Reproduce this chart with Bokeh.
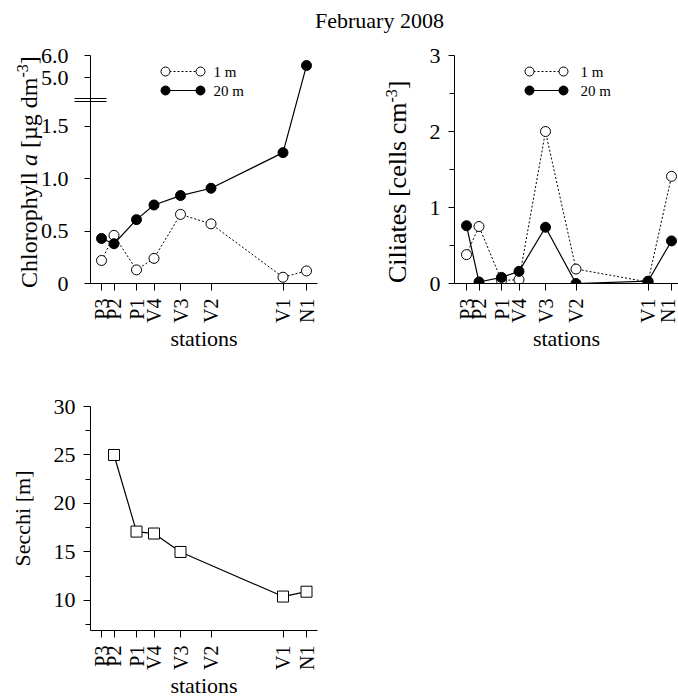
import math
from bokeh.plotting import figure
from bokeh.models import FixedTicker, Label, Div
from bokeh.layouts import column, row
from bokeh.embed import file_html
from bokeh.resources import INLINE

# ---------------- data ----------------
stations = ["P3", "P2", "P1", "V4", "V3", "V2", "V1", "N1"]
station_km = [0.0, 12.5, 35.0, 52.5, 79.0, 109.5, 181.5, 205.0]

chl_1m = [0.22, 0.46, 0.13, 0.24, 0.66, 0.57, 0.06, 0.12]
chl_20m = [0.43, 0.38, 0.61, 0.75, 0.84, 0.91, 1.25, 5.55]

cil_1m = [0.38, 0.75, 0.04, 0.05, 2.00, 0.19, 0.02, 1.41]
cil_20m = [0.76, 0.02, 0.08, 0.16, 0.74, 0.00, 0.03, 0.56]

secchi = [None, 25.0, 17.1, 16.9, 15.0, None, 10.4, 10.9]

chl_ticks = [0.0, 0.5, 1.0, 1.5, 5.0, 6.0]
chl_tick_labels = ["0", "0.5", "1.0", "1.5", "5.0", "6.0"]
cil_ticks = [0, 1, 2, 3]
secchi_ticks = [10, 15, 20, 25, 30]

FONT = "Liberation Serif"


# broken chlorophyll axis: linear up to 1.8, compressed 5-6 section above the break
def chl_disp(v):
    return v if v <= 1.8 else 1.965 + (v - 5.0) * 0.213


CHL_TOP = chl_disp(6.0)


def mk_conv(fl, fr, ft, fb, xr, yr):
    def cx(px):
        return xr[0] + (px - fl) / (fr - fl) * (xr[1] - xr[0])

    def cy(py):
        return yr[0] + (fb - py) / (fb - ft) * (yr[1] - yr[0])
    return cx, cy


TOP_Y = 34            # page y where the top row starts
TOP_H = 321           # top row: page y 34..355
TOP_B, BOT_B = 21, 72  # frame page y 55..283


def vtitle_div(width, base_x, start_y, fs, html):
    """Rotated (bottom-to-top) HTML axis title; base_x = baseline x, start_y = text start (page px)."""
    left = base_x - 0.8375 * fs
    top = start_y - TOP_Y
    inner = (f'<div style="position:relative;width:{width}px;height:{TOP_H}px;overflow:visible">'
             f'<div style="position:absolute;left:{left:.1f}px;top:{top:.1f}px;transform-origin:0 0;'
             f'transform:rotate(-90deg);white-space:nowrap;font-family:\'{FONT}\';font-size:{fs}px;'
             f'line-height:{fs}px;color:black">{html}</div></div>')
    return Div(text=inner, width=width, height=TOP_H, margin=0, styles={"overflow": "visible"})


def style_fig(p, tick_size="22px"):
    p.xgrid.visible = False
    p.ygrid.visible = False
    p.outline_line_color = None
    p.background_fill_color = "white"
    p.border_fill_color = None
    for ax in p.axis:
        ax.axis_line_color = "black"
        ax.axis_line_width = 1
        ax.major_tick_line_color = "black"
        ax.minor_tick_line_color = "black"
        ax.major_tick_in = 0
        ax.minor_tick_in = 0
        ax.major_label_text_font = FONT
        ax.major_label_text_color = "black"
        ax.axis_label_text_font = FONT
        ax.axis_label_text_font_style = "normal"
        ax.axis_label_text_color = "black"
    xa = p.xaxis[0]
    xa.ticker = FixedTicker(ticks=station_km)
    xa.major_label_overrides = {k: s for k, s in zip(station_km, stations)}
    xa.major_label_orientation = math.pi / 2
    xa.major_label_text_font_size = "20px"
    xa.major_tick_out = 7
    xa.major_label_standoff = 8
    xa.axis_label = "stations"
    xa.axis_label_text_font_size = "22px"
    xa.axis_label_standoff = 0
    ya = p.yaxis[0]
    ya.major_label_text_font_size = tick_size
    ya.major_tick_out = 6
    ya.minor_tick_out = 5
    ya.major_label_standoff = 8


common = dict(output_backend="svg", toolbar_location=None, title=None, margin=0)

# ---------------- Chlorophyll ----------------
LAB1_W = 37
X1 = (-11.0, 216.0)
f1 = figure(width=339 - LAB1_W, height=TOP_H, x_range=X1, y_range=(0, CHL_TOP),
            min_border_left=90 - LAB1_W, min_border_right=22, min_border_top=TOP_B,
            min_border_bottom=BOT_B, **common)
style_fig(f1)
cx1, cy1 = mk_conv(90, 317, 55, 283, X1, (0, CHL_TOP))
disp_ticks = [chl_disp(t) for t in chl_ticks]
# two long "minor ticks" form the axis-break mark
f1.yaxis[0].ticker = FixedTicker(ticks=disp_ticks, minor_ticks=[cy1(97.5), cy1(100.5)])
f1.yaxis[0].major_label_overrides = {k: s for k, s in zip(disp_ticks, chl_tick_labels)}
f1.yaxis[0].major_label_standoff = 6
f1.yaxis[0].minor_tick_out = 16
f1.yaxis[0].minor_tick_in = 16
f1.yaxis[0].minor_tick_line_width = 1

c1 = [chl_disp(v) for v in chl_1m]
c20 = [chl_disp(v) for v in chl_20m]
f1.line(station_km, c1, line_color="black", line_width=1, line_dash="2 2")
f1.scatter(station_km, c1, marker="circle", size=10, fill_color="white", line_color="black", line_width=1)
f1.line(station_km, c20, line_color="black", line_width=1.2)
f1.scatter(station_km, c20, marker="circle", size=10, fill_color="black", line_color="black")

# legend
f1.line([cx1(165), cx1(200)], [cy1(71)] * 2, line_color="black", line_width=1, line_dash="2 2")
f1.scatter([cx1(165), cx1(200)], [cy1(71)] * 2, marker="circle", size=9, fill_color="white", line_color="black")
f1.line([cx1(165), cx1(200)], [cy1(90)] * 2, line_color="black", line_width=1.2)
f1.scatter([cx1(165), cx1(200)], [cy1(90)] * 2, marker="circle", size=9, fill_color="black", line_color="black")
for txt, py in (("1 m", 71), ("20 m", 90)):
    f1.add_layout(Label(x=cx1(213), y=cy1(py), text=txt, text_font=FONT, text_font_size="15px",
                        text_baseline="middle", text_align="left", text_color="black"))

# ---------------- Ciliates ----------------
LAB2_W = 75
X2 = (-12.0, 212.0)
f2 = figure(width=339 - LAB2_W, height=TOP_H, x_range=X2, y_range=(0, 3),
            min_border_left=454 - 339 - LAB2_W, min_border_right=0, min_border_top=TOP_B,
            min_border_bottom=BOT_B, **common)
style_fig(f2)
cx2, cy2 = mk_conv(454, 678, 55, 283, X2, (0, 3))
f2.yaxis[0].ticker = FixedTicker(ticks=cil_ticks,
                                 minor_ticks=[(a + b) / 2 for a, b in zip(cil_ticks, cil_ticks[1:])])
f2.line(station_km, cil_1m, line_color="black", line_width=1, line_dash="2 2")
f2.scatter(station_km, cil_1m, marker="circle", size=10, fill_color="white", line_color="black")
f2.line(station_km, cil_20m, line_color="black", line_width=1.2)
f2.scatter(station_km, cil_20m, marker="circle", size=10, fill_color="black", line_color="black")

f2.line([cx2(529), cx2(563)], [cy2(71)] * 2, line_color="black", line_width=1, line_dash="2 2")
f2.scatter([cx2(529), cx2(563)], [cy2(71)] * 2, marker="circle", size=9, fill_color="white", line_color="black")
f2.line([cx2(529), cx2(563)], [cy2(90)] * 2, line_color="black", line_width=1.2)
f2.scatter([cx2(529), cx2(563)], [cy2(90)] * 2, marker="circle", size=9, fill_color="black", line_color="black")
for txt, py in (("1 m", 71), ("20 m", 90)):
    f2.add_layout(Label(x=cx2(580), y=cy2(py), text=txt, text_font=FONT, text_font_size="15px",
                        text_baseline="middle", text_align="left", text_color="black"))

# ---------------- rotated y-axis titles ----------------
sup = '<span style="font-size:16px;position:relative;top:-9px">-3</span>'
lab1 = vtitle_div(LAB1_W, 37, 288, 24, f'Chlorophyll <i>a</i> [µg dm{sup}]')
lab2 = vtitle_div(LAB2_W, 407 - 339, 283, 26, f'Ciliates [cells cm{sup}]')

# ---------------- Secchi ----------------
X3 = (-11.0, 216.0)
Y3 = (6.9, 30.0)
f3 = figure(width=339, height=345, x_range=X3, y_range=Y3,
            min_border_left=90, min_border_right=22, min_border_top=51, min_border_bottom=65,
            **common)
style_fig(f3)
f3.yaxis[0].major_tick_out = 7
f3.yaxis[0].axis_label = "Secchi [m]"
f3.yaxis[0].axis_label_text_font_size = "22px"
f3.yaxis[0].axis_label_standoff = 16
f3.yaxis[0].ticker = FixedTicker(ticks=secchi_ticks, minor_ticks=[t - 2.5 for t in secchi_ticks])
sx = [k for k, v in zip(station_km, secchi) if v is not None]
sy = [v for v in secchi if v is not None]
f3.line(sx, sy, line_color="black", line_width=1.2)
f3.scatter(sx, sy, marker="square", size=11, fill_color="white", line_color="black", line_width=1)

title = Div(text='<div style="padding-left:315px;padding-top:8px;font-family:\'Liberation Serif\';'
                 'font-size:22px;line-height:26px;white-space:nowrap;color:black">February 2008</div>',
            width=678, height=TOP_Y, margin=0)

layout = column(title, row(lab1, f1, lab2, f2, spacing=0, margin=0), f3, spacing=0, margin=0)

with open("out.html", "w") as fh:
    fh.write(file_html(layout, INLINE))
